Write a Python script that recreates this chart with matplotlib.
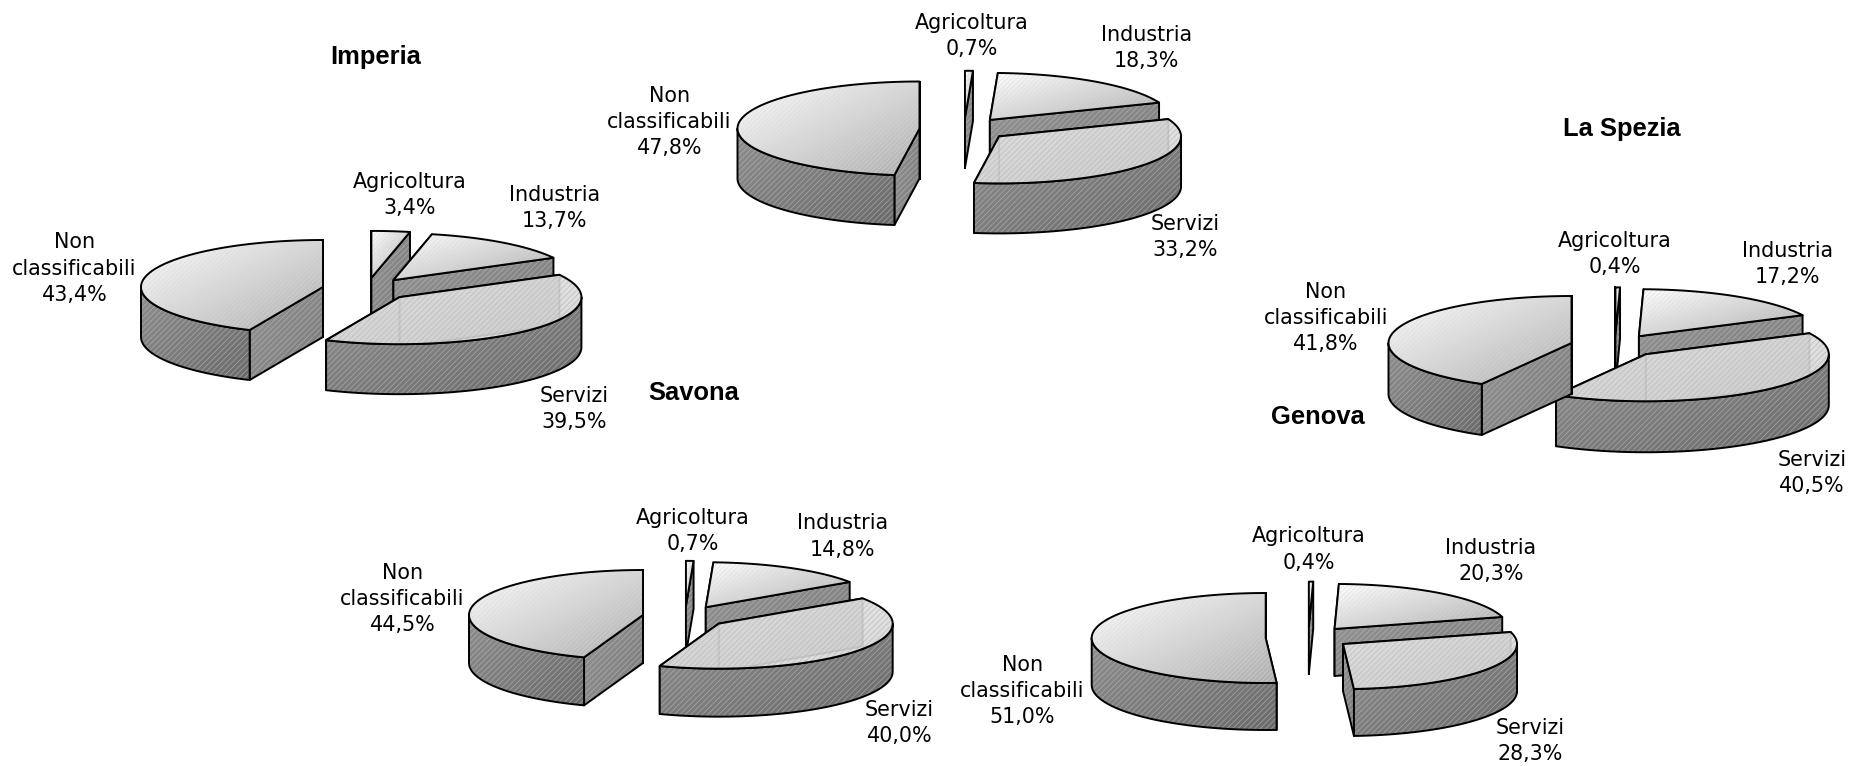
import numpy as np
import matplotlib
matplotlib.use("Agg")
import matplotlib.pyplot as plt
from matplotlib.patches import Polygon

categories = ["Agricoltura", "Industria", "Servizi", "Non\nclassificabili"]
imperia = [3.4, 13.7, 39.5, 43.4]
primo = [0.7, 18.3, 33.2, 47.8]
la_spezia = [0.4, 17.2, 40.5, 41.8]
savona = [0.7, 14.8, 40.0, 44.5]
genova = [0.4, 20.3, 28.3, 51.0]
value_labels = {
    "imperia": ["3,4%", "13,7%", "39,5%", "43,4%"],
    "primo": ["0,7%", "18,3%", "33,2%", "47,8%"],
    "la_spezia": ["0,4%", "17,2%", "40,5%", "41,8%"],
    "savona": ["0,7%", "14,8%", "40,0%", "44,5%"],
    "genova": ["0,4%", "20,3%", "28,3%", "51,0%"],
}
titles = ["Imperia", "Savona", "La Spezia", "Genova"]

# layout, in pixels of the 1851x766 canvas
S = 1851 / 1568
pies = [
    dict(v=imperia, k="imperia", apex=(323, 287), a=182, b=47, h=50,
         lab=[(347, 165.5), (470, 176.5), (486, 346.5), (63, 227.5)]),
    dict(v=primo, k="primo", apex=(919.5, 128.5), a=182, b=47, h=50,
         lab=[(823, 30.5), (971, 40.5), (1004, 200.5), (567, 103.5)]),
    dict(v=la_spezia, k="la_spezia", apex=(1571.5, 343), a=183, b=47, h=51,
         lab=[(1368, 215.5), (1514, 223.5), (1535, 400.5), (1123, 269.5)]),
    dict(v=savona, k="savona", apex=(643, 615), a=174, b=45, h=48,
         lab=[(587, 449.5), (714, 454.5), (762, 612.5), (341, 507.5)]),
    dict(v=genova, k="genova", apex=(1265.7, 638), a=174, b=45, h=47,
         lab=[(1109, 465.5), (1263, 475.5), (1296, 627.5), (866, 585.5)]),
]
title_pos = [(318, 48.5), (588, 333), (1374, 109.5), (1116, 353)]
EXPLODE = 0.245
LW = 1.4

plt.rcParams["hatch.linewidth"] = 0.45
fig = plt.figure(figsize=(18.51, 7.66), dpi=100, facecolor="white")
ax = fig.add_axes([0, 0, 1, 1])
ax.axis("off")


def gradient_fill(pts, v0, v1, z, alpha=1.0, hatch_col="#bdbdbd", hatch="//////"):
    pts = np.asarray(pts)
    x0, y0 = pts.min(axis=0)
    x1, y1 = pts.max(axis=0)
    yy, xx = np.mgrid[0:1:64j, 0:1:64j]
    t = (xx + yy) / 2
    img = ax.imshow(v0 + (v1 - v0) * t, cmap="gray", vmin=0, vmax=1, alpha=alpha,
                    extent=(x0, x1, y1, y0), aspect="auto", zorder=z,
                    interpolation="bilinear")
    clip = Polygon(pts, closed=True, transform=ax.transData, fc="none", ec="none")
    ax.add_patch(clip)
    img.set_clip_path(clip)
    ax.add_patch(Polygon(pts, closed=True, fc="none", ec=hatch_col, lw=0,
                         hatch=hatch, alpha=alpha * 0.75, zorder=z + 0.01))
    ax.add_patch(Polygon(pts, closed=True, fc="none", ec="black", lw=LW,
                         joinstyle="round", zorder=z + 0.02))


z = 1.0
for pie in pies:
    v = np.array(pie["v"], dtype=float)
    a, b, h = pie["a"], pie["b"], pie["h"]
    edges = np.concatenate([[0], np.cumsum(v) / v.sum() * 360])
    mids = (edges[:-1] + edges[1:]) / 2
    unit = lambda th: (np.sin(np.radians(th)), -np.cos(np.radians(th)))
    ux, uy = unit(mids[3])
    cx = pie["apex"][0] - EXPLODE * a * ux
    cy = pie["apex"][1] - EXPLODE * b * uy
    for i in range(4):
        t1, t2 = edges[i], edges[i + 1]
        ex, ey = unit(mids[i])
        ox = cx + EXPLODE * a * ex
        oy = cy + EXPLODE * b * ey
        th = np.linspace(t1, t2, 120)
        rx = ox + a * np.sin(np.radians(th))
        ry = oy - b * np.cos(np.radians(th))
        # cut faces
        for tt, idx in ((t1, 0), (t2, -1)):
            p = [(ox, oy), (rx[idx], ry[idx]), (rx[idx], ry[idx] + h), (ox, oy + h)]
            gradient_fill(p, 0.58, 0.48, z)
            z += 0.1
        # outer wall
        lo, hi = max(t1, 90), min(t2, 270)
        if hi > lo:
            wt = np.linspace(lo, hi, 120)
            wx = ox + a * np.sin(np.radians(wt))
            wy = oy - b * np.cos(np.radians(wt))
            p = list(zip(wx, wy)) + list(zip(wx[::-1], wy[::-1] + h))
            gradient_fill(p, 0.56, 0.42, z)
            z += 0.1
        # top face
        p = [(ox, oy)] + list(zip(rx, ry))
        if i == 2:
            gradient_fill(p, 0.90, 0.84, z, alpha=0.9, hatch_col="#a8a8a8")
        else:
            gradient_fill(p, 1.0, 0.68, z, hatch_col="#d8d8d8", hatch="///////")
        z += 0.1
    for i in range(4):
        x, y = pie["lab"][i]
        ax.text(x * S, y * S, categories[i] + "\n" + value_labels[pie["k"]][i],
                ha="center", va="center", ma="center", fontsize=14.9,
                family="DejaVu Sans", color="black", linespacing=1.38, zorder=500)

for name, (x, y) in zip(titles, title_pos):
    ax.text(x * S, y * S, name, ha="center", va="center", fontsize=18.4,
            fontweight="bold", family="Liberation Sans", color="black", zorder=500)

ax.set_xlim(0, 1851)
ax.set_ylim(766, 0)
fig.savefig("out.png", dpi=100, facecolor="white")
